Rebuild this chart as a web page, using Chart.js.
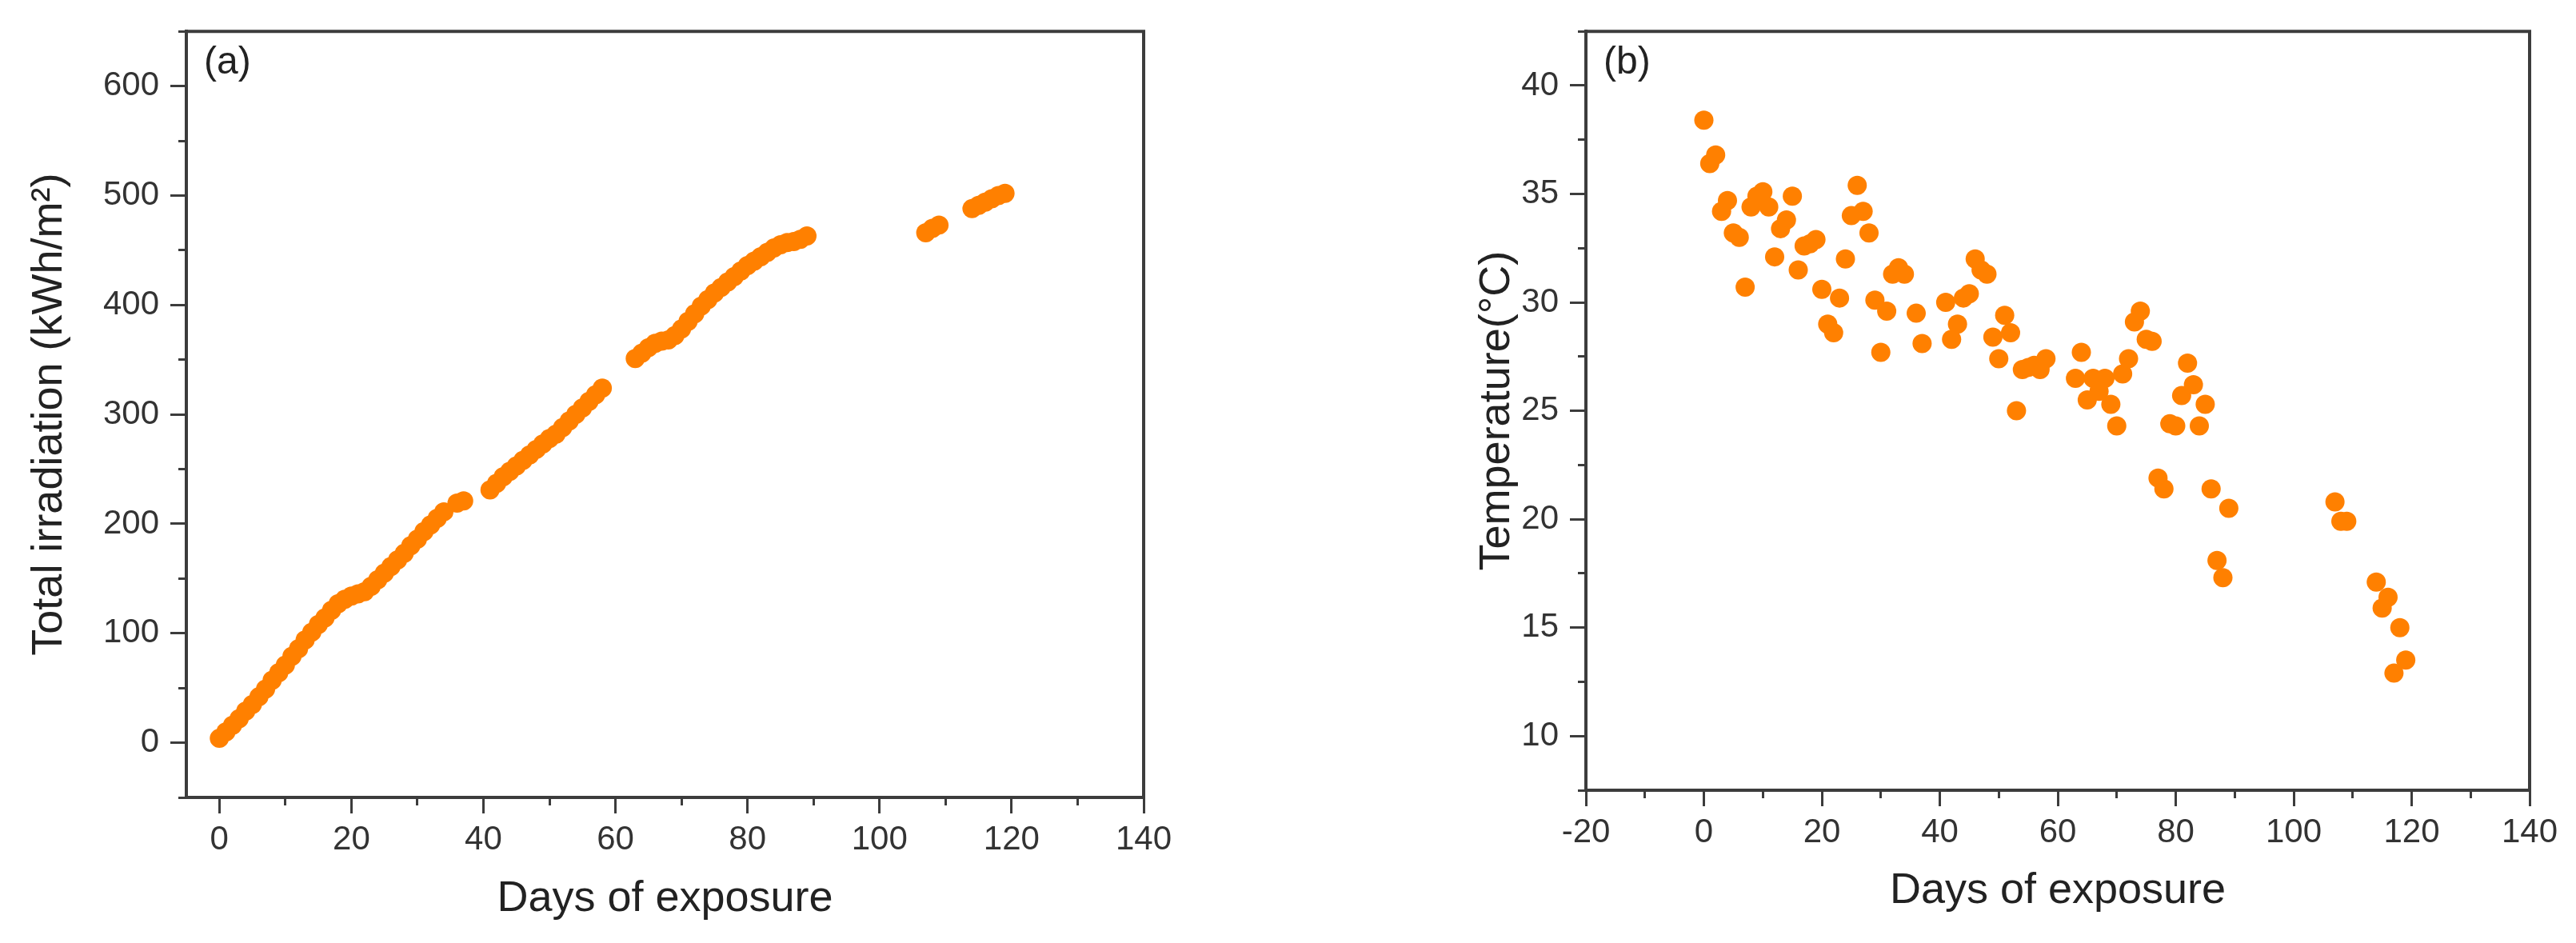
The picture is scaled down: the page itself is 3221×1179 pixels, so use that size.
<!DOCTYPE html>
<html>
<head>
<meta charset="utf-8">
<script src="https://cdn.jsdelivr.net/npm/chart.js@4.4.1/dist/chart.umd.min.js"></script>
<style>
  body { margin: 0; background: #fff; }
  canvas { position: absolute; top: 0; }
  #chartIrr { left: 0; }
  #chartTemp { left: 1610px; }
</style>
</head>
<body>
<canvas id="chartIrr" width="1610" height="1179"></canvas>
<canvas id="chartTemp" width="1611" height="1179"></canvas>
<script>
// days with a reading (same days in both panels)
const days = [
  0, 1, 2, 3, 4, 5, 6, 7, 8, 9, 10, 11, 12, 13, 14, 15, 16, 17, 18, 19,
  20, 21, 22, 23, 24, 25, 26, 27, 28, 29, 30, 31, 32, 33, 34, 36, 37,
  41, 42, 43, 44, 45, 46, 47, 48, 49, 50, 51, 52, 53, 54, 55, 56, 57, 58,
  63, 64, 65, 66, 67, 68, 69, 70, 71, 72, 73, 74, 75, 76, 77, 78, 79, 80,
  81, 82, 83, 84, 85, 86, 87, 88, 89, 107, 108, 109, 114, 115, 116, 117, 118, 119
];

// (a) cumulative irradiation, kWh/m2
const irradiation = [
  4, 10, 16, 22, 29, 35, 42, 49, 57, 64, 71, 79, 86, 94, 101, 108, 114, 121, 127, 131,
  134, 136, 138, 143, 149, 155, 161, 167, 173, 180, 186, 193, 199, 205, 211, 219, 221,
  231, 237, 243, 248, 253, 258, 263, 268, 273, 278, 282, 288, 294, 300, 306, 312, 318, 324,
  351, 356, 361, 365, 367, 368, 372, 378, 385, 392, 399, 405, 411, 416, 421, 426, 431, 436,
  440, 444, 448, 452, 455, 457, 458, 460, 463, 466, 470, 473, 488, 491, 494, 497, 500, 502
];

// (b) temperature, degC
const temperature = [
  38.4, 36.4, 36.8, 34.2, 34.7, 33.2, 33.0, 30.7, 34.4, 34.9, 35.1, 34.4, 32.1, 33.4, 33.8, 34.9, 31.5, 32.6, 32.7, 32.9,
  30.6, 29.0, 28.6, 30.2, 32.0, 34.0, 35.4, 34.2, 33.2, 30.1, 27.7, 29.6, 31.3, 31.6, 31.3, 29.5, 28.1,
  30.0, 28.3, 29.0, 30.2, 30.4, 32.0, 31.5, 31.3, 28.4, 27.4, 29.4, 28.6, 25.0, 26.9, 27.0, 27.1, 26.9, 27.4,
  26.5, 27.7, 25.5, 26.5, 25.9, 26.5, 25.3, 24.3, 26.7, 27.4, 29.1, 29.6, 28.3, 28.2, 21.9, 21.4, 24.4, 24.3,
  25.7, 27.2, 26.2, 24.3, 25.3, 21.4, 18.1, 17.3, 20.5, 20.8, 19.9, 19.9, 17.1, 15.9, 16.4, 12.9, 15.0, 13.5
];

// labelled (major) ticks
const dayTicks = [-20, 0, 20, 40, 60, 80, 100, 120, 140];
const irrTicks = [0, 100, 200, 300, 400, 500, 600];
const tempTicks = [10, 15, 20, 25, 30, 35, 40];

const ink = '#3c3c3c';
const orange = '#FF8000';
const family = "'Liberation Sans', Arial, sans-serif";

Chart.defaults.font.family = family;

function axis(o) {
  return {
    type: 'linear',
    position: o.position,
    min: o.min,
    max: o.max,
    ticks: {
      stepSize: o.step,
      includeBounds: false,
      autoSkip: false,
      maxRotation: 0,
      padding: o.position === 'left' ? 14 : 8,
      color: '#333',
      font: { size: 42 },
      callback: v => o.labels.includes(v) ? String(v) : ''
    },
    grid: {
      drawOnChartArea: false,
      tickLength: 20,
      tickColor: ink,
      tickWidth: 3,
      tickBorderDash: c => (c.tick && o.labels.includes(c.tick.value)) ? [] : [8, 200],
      tickBorderDashOffset: c => (c.tick && o.labels.includes(c.tick.value)) ? 0 : (o.position === 'left' ? -10 : 0)
    },
    border: { color: ink, width: 4 },
    title: {
      display: true,
      text: o.title,
      color: '#222',
      font: { size: o.titleSize || 54 },
      padding: o.titlePad
    },
    afterFit: s => {
      if (o.position === 'left') s.width = o.size; else s.height = o.size;
    }
  };
}

const framePlugin = {
  id: 'frame',
  afterDraw(chart, args, opts) {
    const { ctx, chartArea: a } = chart;
    ctx.save();
    ctx.strokeStyle = ink;
    ctx.lineWidth = 4;
    ctx.beginPath();
    ctx.moveTo(a.left - 2, a.top);
    ctx.lineTo(a.right, a.top);
    ctx.lineTo(a.right, a.bottom + 2);
    ctx.stroke();
    ctx.fillStyle = '#222';
    ctx.font = '48px ' + family;
    ctx.textBaseline = 'middle';
    ctx.fillText(opts.label, a.left + 22, a.top + 40);
    ctx.restore();
  }
};

function panel(id, values, label, pad, xAxis, yAxis) {
  new Chart(document.getElementById(id), {
    type: 'scatter',
    data: {
      datasets: [{
        data: days.map((d, i) => ({ x: d, y: values[i] })),
        backgroundColor: orange,
        borderWidth: 0,
        pointRadius: 12,
        pointHoverRadius: 12
      }]
    },
    options: {
      responsive: false,
      animation: false,
      devicePixelRatio: 1,
      layout: { padding: pad },
      plugins: {
        legend: { display: false },
        tooltip: { enabled: false },
        frame: { label }
      },
      scales: { x: xAxis, y: yAxis }
    },
    plugins: [framePlugin]
  });
}

panel('chartIrr', irradiation, '(a)',
  { left: 0, right: 180, top: 33, bottom: 0 },
  axis({ position: 'bottom', min: -5, max: 140, step: 10, labels: dayTicks,
         title: 'Days of exposure', titlePad: { bottom: 22 }, size: 182 }),
  axis({ position: 'left', min: -50, max: 650, step: 50, labels: irrTicks,
         title: 'Total irradiation (kWh/m²)', titlePad: { top: 30 }, size: 233 })
);

panel('chartTemp', temperature, '(b)',
  { left: 200, right: 58, top: 37, bottom: 0 },
  axis({ position: 'bottom', min: -20, max: 140, step: 10, labels: dayTicks,
         title: 'Days of exposure', titlePad: { bottom: 32 }, size: 191 }),
  axis({ position: 'left', min: 7.5, max: 42.5, step: 2.5, labels: tempTicks,
         title: 'Temperature(°C)', titlePad: { top: 30 }, size: 173 })
);
</script>
</body>
</html>
